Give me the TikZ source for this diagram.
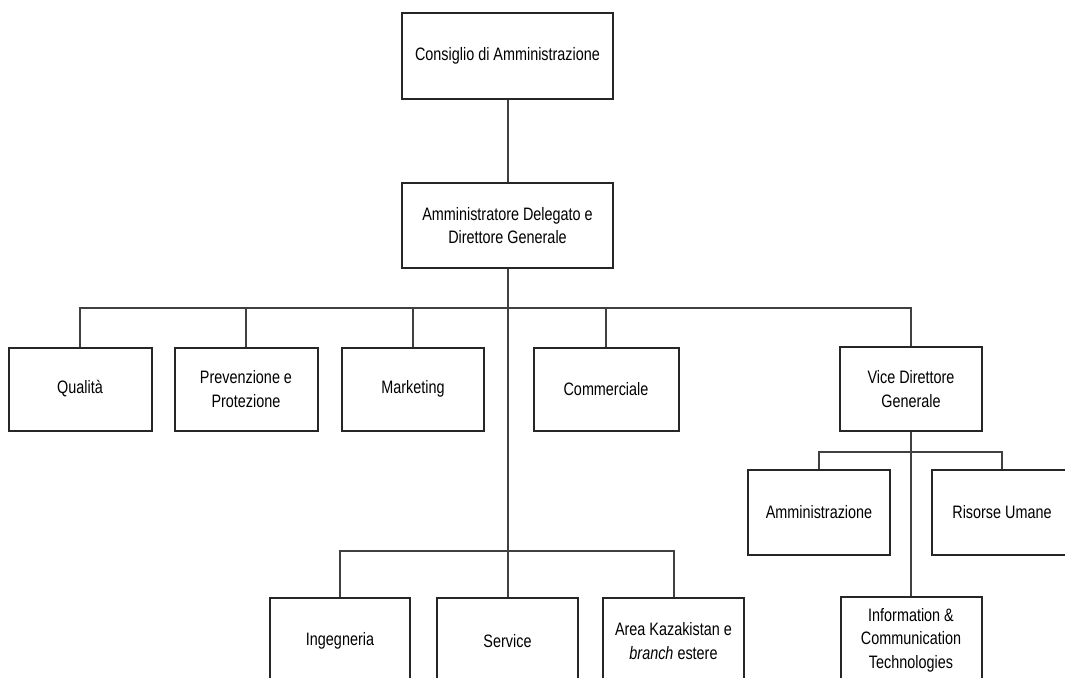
\documentclass[tikz,border=0pt]{standalone}
\usepackage{fontspec}
\setmainfont[FakeStretch=0.8]{Liberation Sans}
\begin{document}
\begin{tikzpicture}[x=1pt,y=-1pt,
  unit/.style={draw=black!85, line width=2pt, fill=white, inner sep=0pt,
    align=center, font=\fontsize{18}{23.5}\selectfont},
  link/.style={draw=black!75, line width=2pt}]
\useasboundingbox (0,0) rectangle (1065,677);

% board and chief executive
\node[unit, minimum width=211, minimum height=86] (cda) at (507.5,56) {Consiglio di Amministrazione};
\node[unit, minimum width=211, minimum height=85] (ad) at (507.5,225.5) {Amministratore Delegato e\\Direttore Generale};

% staff and line functions
\node[unit, minimum width=143, minimum height=83] (qual) at (80,389) {Qualità};
\node[unit, minimum width=143, minimum height=83] (prev) at (246,389) {Prevenzione e\\Protezione};
\node[unit, minimum width=142, minimum height=83] (mkt) at (413,389) {Marketing};
\node[unit, minimum width=145, minimum height=83] (comm) at (606,389) {Commerciale};
\node[unit, minimum width=142, minimum height=84] (vice) at (911,389) {Vice Direttore\\Generale};

% units under the deputy director
\node[unit, minimum width=142, minimum height=85] (amm) at (819,512.5) {Amministrazione};
\node[unit, minimum width=140, minimum height=85] (ris) at (1002,512.5) {Risorse Umane};
\node[unit, minimum width=141, minimum height=86] (ict) at (911,640) {Information \&\\Communication\\Technologies};

% operating units
\node[unit, minimum width=140, minimum height=86] (ing) at (340,641) {Ingegneria};
\node[unit, minimum width=141, minimum height=86] (serv) at (507.5,641) {Service};
\node[unit, minimum width=141, minimum height=86] (area) at (673.5,641) {Area Kazakistan e\\\textit{branch} estere};

% bus levels
\coordinate (bus) at (507.5,308);
\coordinate (bbus) at (507.5,551);
\coordinate (vbus) at (911,452);

% connectors
\draw[link] (cda) -- (ad);
\draw[link] (ad.south) -- (serv.north);
\draw[link] (qual.north) |- (bus) -| (vice.north);
\draw[link] (prev.north) -- (prev.north |- bus);
\draw[link] (mkt.north) -- (mkt.north |- bus);
\draw[link] (comm.north) -- (comm.north |- bus);
\draw[link] (ing.north) |- (bbus) -| (area.north);
\draw[link] (vice.south) -- (ict.north);
\draw[link] (amm.north) |- (vbus) -| (ris.north);
\end{tikzpicture}
\end{document}
